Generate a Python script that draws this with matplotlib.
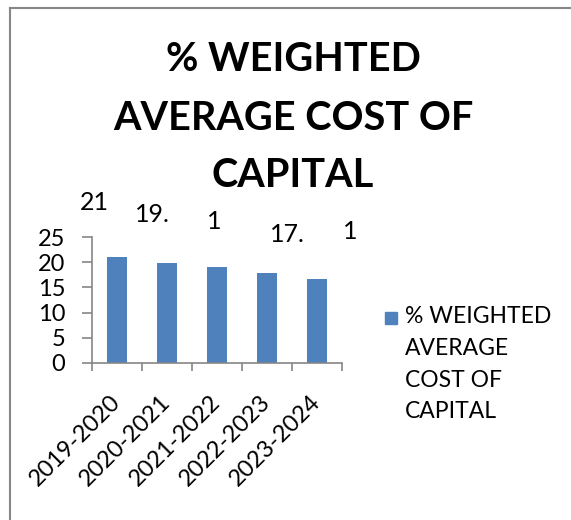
import matplotlib
matplotlib.use("Agg")
import matplotlib.pyplot as plt
from matplotlib.lines import Line2D
from matplotlib.patches import Rectangle
import numpy as np

plt.rcParams['font.family'] = ['Lato', 'DejaVu Sans']

# cost of capital by financial year
years = ['2019-2020', '2020-2021', '2021-2022', '2022-2023', '2023-2024']
wacc = [21.0, 19.96, 19.0, 17.92, 16.7]
# data labels as the spreadsheet showed them (clipped)
shown_labels = ['21', '19.', '1', '17.', '1']
title_lines = ['% WEIGHTED', 'AVERAGE COST OF', 'CAPITAL']
legend_lines = ['% WEIGHTED', 'AVERAGE', 'COST OF', 'CAPITAL']

BLUE = '#4F81BD'
GREY = '#868686'
W, H = 571, 520

fig = plt.figure(figsize=(W / 100, H / 100), dpi=100)
ax = fig.add_axes([91.7 / W, 1 - 362.7 / H, 250 / W, 125.4 / H])

x = np.arange(len(years))
bars = ax.bar(x, wacc, width=0.4, color=BLUE)

ax.set_xlim(-0.5, len(years) - 0.5)
ax.set_ylim(0, 25)
ax.set_yticks(np.arange(0, 26, 5))
for s in ['top', 'right']:
    ax.spines[s].set_visible(False)
for s in ['left', 'bottom']:
    ax.spines[s].set_color(GREY)
    ax.spines[s].set_linewidth(1.2)

ax.tick_params(axis='y', length=7, width=1.2, color=GREY, pad=12,
               labelsize=17)
ax.set_xticks(x)
ax.set_xticks(np.arange(-0.5, len(years)), minor=True)
ax.tick_params(axis='x', which='major', length=0, pad=26, labelsize=17)
ax.tick_params(axis='x', which='minor', length=6, width=1.2, color=GREY)
ax.set_xticklabels(years, rotation=45, ha='right', va='center',
                   rotation_mode='anchor')

# labels sit where the spreadsheet left them, offset from each bar top
label_dx = [-36.7, -31.7, -9.7, 3.3, 26.3]
label_dy = [47, 41, 38, 31, 40]
for b, txt, dx, dy in zip(bars, shown_labels, label_dx, label_dy):
    ax.annotate(txt, (b.get_x() + b.get_width() / 2, b.get_height()),
                xytext=(dx, dy), textcoords='offset pixels',
                ha='left', va='baseline', fontsize=18, annotation_clip=False)

# title, one baseline per line
for line, base in zip(title_lines, [71, 130, 187]):
    fig.text(293 / W, 1 - base / H, line, ha='center', va='baseline',
             fontsize=28.5, fontweight='bold')

# legend drawn by hand so the swatch lines up with the first text line
fig.patches.append(Rectangle((385 / W, 1 - 324 / H), 12 / W, 12 / H,
                             transform=fig.transFigure, color=BLUE))
for line, base in zip(legend_lines, [323, 355, 387, 418]):
    fig.text(405 / W, 1 - base / H, line, ha='left', va='baseline',
             fontsize=16.5)

# chart area frame (left and top edges)
fig.add_artist(Line2D([10 / W, 10 / W], [0, 1 - 7.5 / H], color=GREY, lw=1.5))
fig.add_artist(Line2D([10 / W, 1], [1 - 7.5 / H, 1 - 7.5 / H], color=GREY, lw=1.5))

fig.savefig('out.png', dpi=100)
